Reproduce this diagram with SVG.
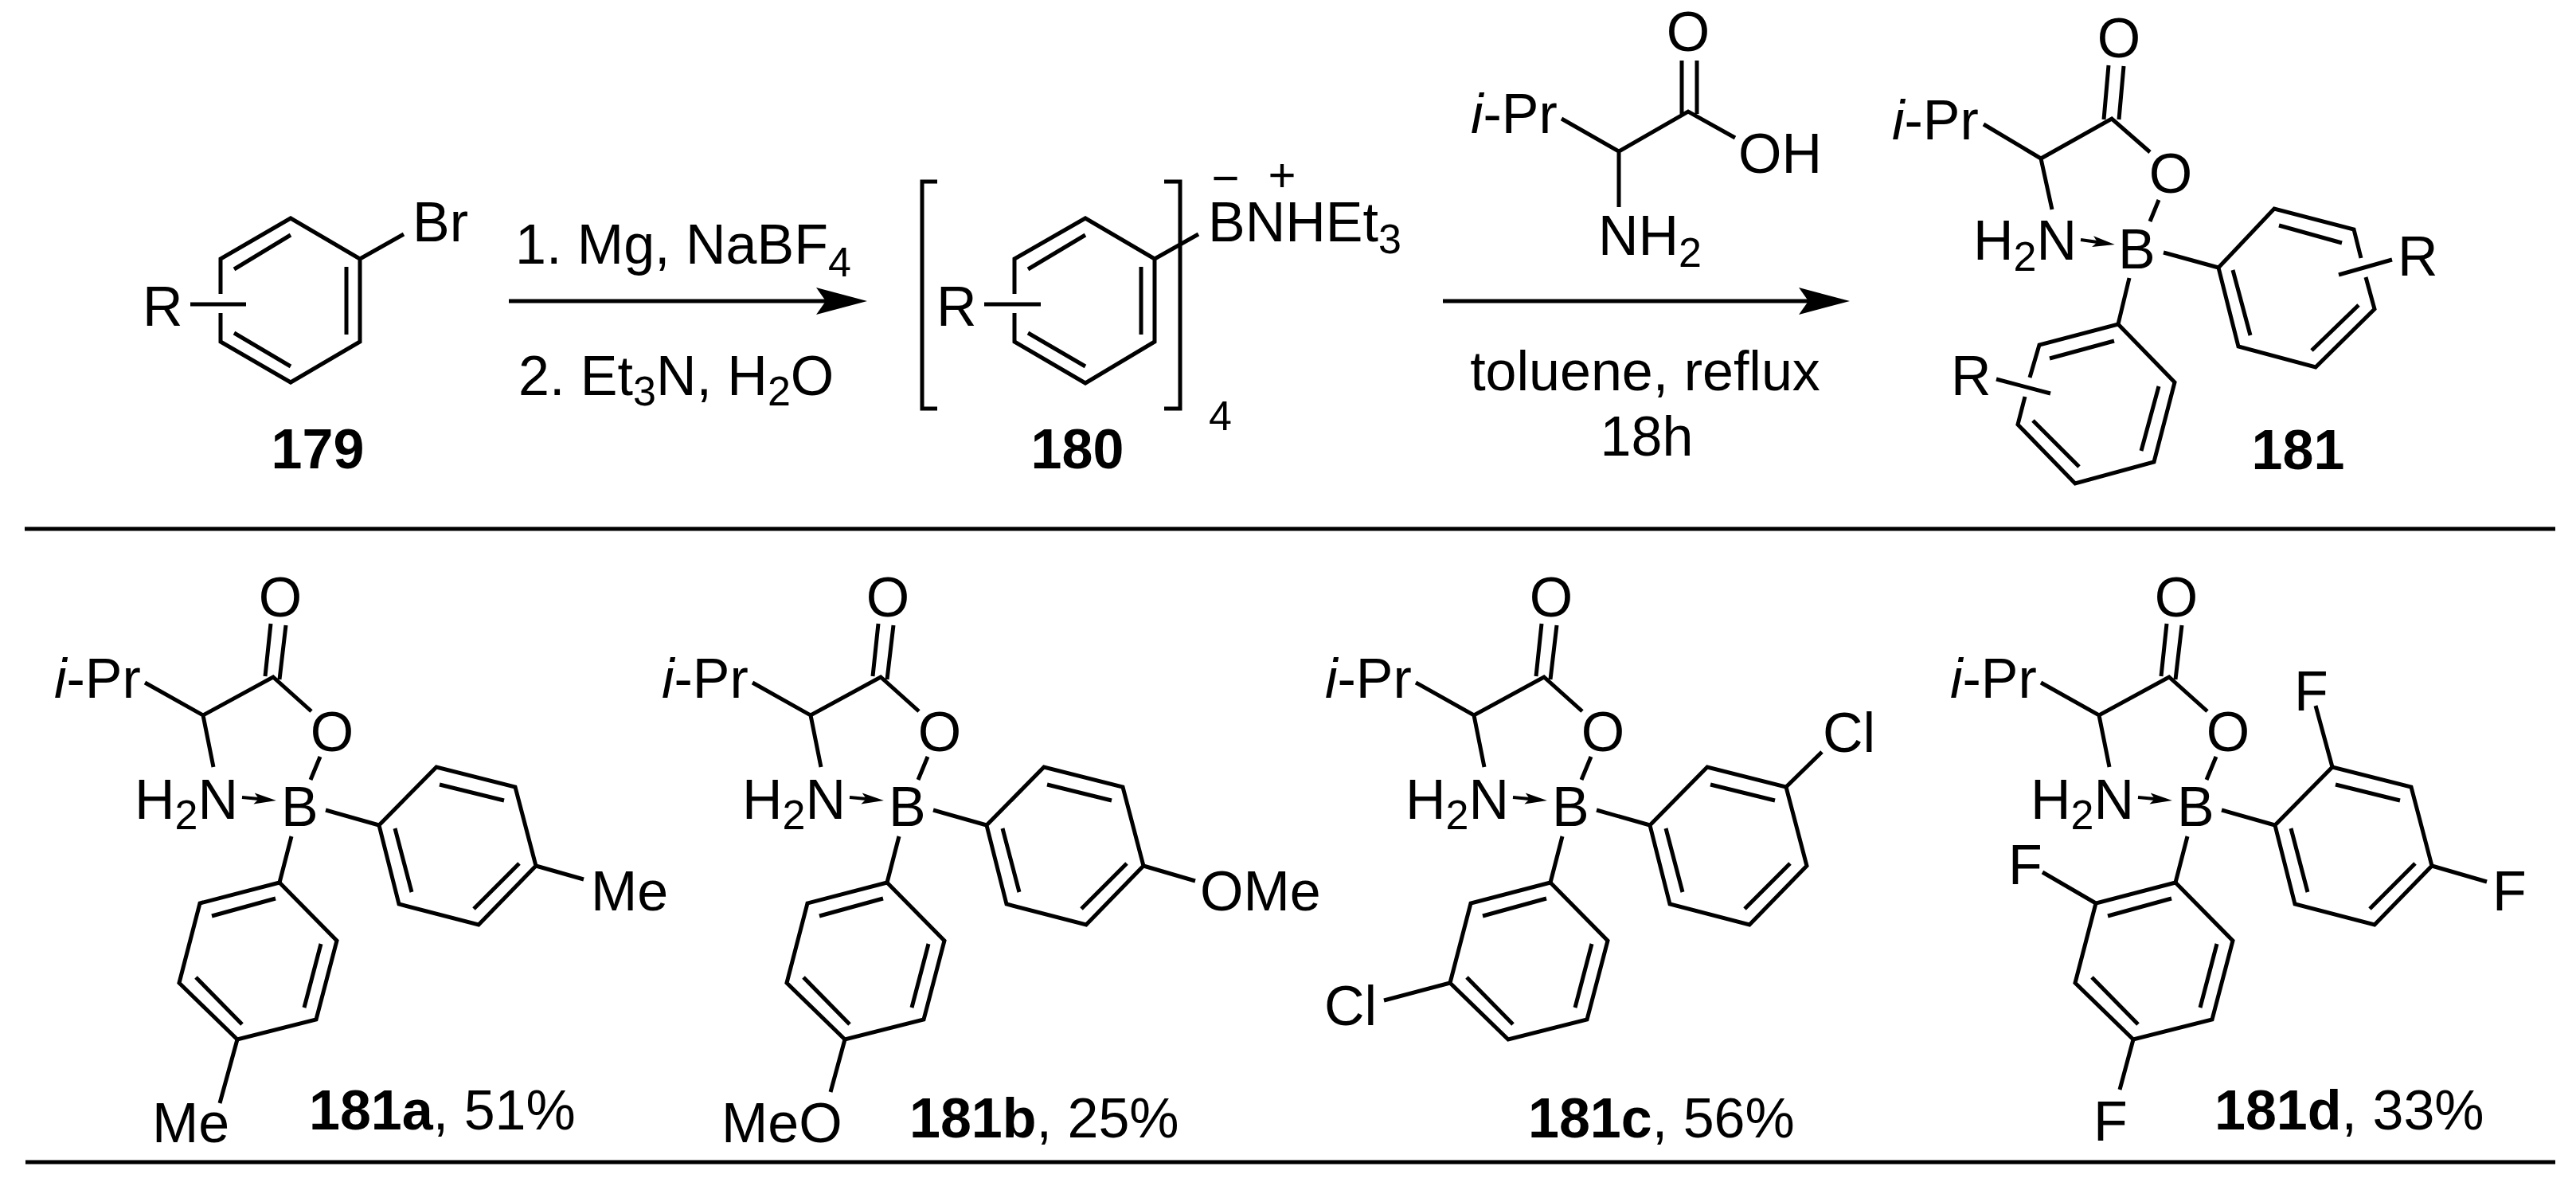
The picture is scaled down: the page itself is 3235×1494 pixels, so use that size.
<svg xmlns="http://www.w3.org/2000/svg" width="3235" height="1494" viewBox="0 0 3235 1494">
<style>
.b{fill:none;stroke:#000;stroke-width:5;stroke-linejoin:miter}
.c{fill:none;stroke:#000;stroke-width:5}
.s{fill:none;stroke:#000;stroke-width:4}
text{font-family:"Liberation Sans",Arial,sans-serif;font-size:70px;fill:#000}
.m{text-anchor:middle}
.h{font-weight:bold}
.i{font-style:italic}
.u{font-size:52px}
</style>
<defs>
<marker id="head" markerUnits="userSpaceOnUse" viewBox="0 -18 66 36" refX="12" refY="0" markerWidth="66" markerHeight="36" orient="auto"><path d="M0 -17L64 0L0 17L12 0Z" fill="#000"/></marker>
<marker id="small" markerUnits="userSpaceOnUse" viewBox="0 -8 30 16" refX="6" refY="0" markerWidth="30" markerHeight="16" orient="auto"><path d="M0 -7L28 0L0 7L6 0Z" fill="#000"/></marker>
</defs>
<rect width="3235" height="1494" fill="#fff"/>
<g id="connectors">
<path class="c" d="M639 378H1037" marker-end="url(#head)"/>
<path class="c" d="M1812 378H2271" marker-end="url(#head)"/>
<path class="c" d="M31 664H3209"/>
<path class="c" d="M32 1459H3209"/>
</g>
<g id="compound-179">
<path class="b" d="M277 369V325L365 274L452 325V429L365 480L277 429V393M294 338L365 295M435 335V420M294 418L365 460M452 325L507 294M239 382H309"/>
<text x="179" y="409">R</text>
<text x="518" y="303">Br</text>
<text class="m h" x="399" y="588">179</text>
</g>
<g id="reagents-1">
<text x="647" y="331">1. Mg, NaBF<tspan class="u" dy="16">4</tspan></text>
<text x="651" y="496">2. Et<tspan class="u" dy="13">3</tspan><tspan dy="-13">N, H</tspan><tspan class="u" dy="13">2</tspan><tspan dy="-13">O</tspan></text>
</g>
<g id="compound-180">
<path class="b" d="M1177 228H1158V513H1177M1462 228H1482V513H1462"/>
<path class="b" d="M1274 369V325L1363 274L1450 325V429L1363 481L1274 429V393M1291 338L1363 295M1433 335V420M1291 418L1363 460M1450 325L1505 294M1236 382H1307"/>
<text x="1176" y="409">R</text>
<text x="1517" y="303">BNHEt<tspan class="u" dy="15">3</tspan></text>
<text class="m" x="1539" y="244" style="font-size:60px">−</text>
<text class="m" x="1610" y="240" style="font-size:60px">+</text>
<text class="u" x="1518" y="540">4</text>
<text class="m h" x="1353" y="588">180</text>
</g>
<g id="reagents-2">
<path class="b" d="M1961 149L2033 190L2120 140L2179 173M2033 190V260M2112 76V143M2131 76V143"/>
<text class="m" x="2120" y="64">O</text>
<text x="1847" y="167"><tspan class="i">i</tspan>-Pr</text>
<text x="2183" y="217">OH</text>
<text x="2007" y="320">NH<tspan class="u" dy="15">2</tspan></text>
<text class="m" x="2066" y="490">toluene, reflux</text>
<text class="m" x="2068" y="572">18h</text>
</g>
<g id="compound-181">
<path class="b" d="M2648 82L2642 150M2667 83L2661 150M2491 156L2563 199L2652 149L2700 191M2563 199L2577 263M2711 251L2700 278M2717 317L2786 336M2674 349L2660 407"/>
<path class="b" d="M2965 324L2956 288L2856 262L2786 336L2811 435L2908 461L2982 388L2971 348M2862 283L2941 305M2962 383L2903 440M2804 339L2826 421M2937 345L3004 326"/>
<path class="b" d="M2549 474L2561 433L2660 407L2731 480L2705 580L2606 607L2534 533L2543 498M2655 428L2574 450M2553 528L2611 586M2689 566L2711 485M2507 476L2575 494"/>
<path class="s" d="M2613 301L2634 304" marker-end="url(#small)"/>
<text class="m" x="2661" y="72">O</text>
<text class="m" x="2726" y="242">O</text>
<text x="2376" y="175"><tspan class="i">i</tspan>-Pr</text>
<text x="2478" y="326">H<tspan class="u" dy="14">2</tspan><tspan dy="-14">N</tspan></text>
<text x="2660" y="337">B</text>
<text x="3011" y="346">R</text>
<text x="2450" y="496">R</text>
<text class="m h" x="2886" y="589">181</text>
</g>
<g id="compound-181a">
<path class="b" d="M340 783L333 849M359 785L351 853M182 857L255 898L343 850L391 893M255 898L268 963M402 950L390 979M409 1017L476 1036M366 1050L351 1108"/>
<path class="b" d="M476 1036L548 963L647 988L673 1087L601 1161L501 1135ZM552 985L633 1005M652 1084L595 1141M496 1040L517 1120"/>
<path class="b" d="M351 1108L251 1134L225 1234L298 1305L397 1280L423 1181ZM346 1128L266 1150M246 1227L304 1286M382 1265L403 1185"/>
<path class="s" d="M304 1001L325 1003" marker-end="url(#small)"/>
<path class="b" d="M673 1087L733 1104M298 1305L276 1385"/>
<text class="m" x="352" y="774">O</text><text class="m" x="417" y="943">O</text>
<text x="68" y="876"><tspan class="i">i</tspan>-Pr</text>
<text x="169" y="1028">H<tspan class="u" dy="13">2</tspan><tspan dy="-13">N</tspan></text>
<text x="353" y="1037">B</text>
<text x="742" y="1143">Me</text>
<text x="191" y="1434">Me</text>
<text x="388" y="1418"><tspan class="h">181a</tspan>, 51%</text>
</g>
<g id="compound-181b" transform="translate(763 0)">
<path class="b" d="M340 783L333 849M359 785L351 853M182 857L255 898L343 850L391 893M255 898L268 963M402 950L390 979M409 1017L476 1036M366 1050L351 1108"/>
<path class="b" d="M476 1036L548 963L647 988L673 1087L601 1161L501 1135ZM552 985L633 1005M652 1084L595 1141M496 1040L517 1120"/>
<path class="b" d="M351 1108L251 1134L225 1234L298 1305L397 1280L423 1181ZM346 1128L266 1150M246 1227L304 1286M382 1265L403 1185"/>
<path class="s" d="M304 1001L325 1003" marker-end="url(#small)"/>
<path class="b" d="M673 1087L738 1106M298 1305L280 1371"/>
<text class="m" x="352" y="774">O</text><text class="m" x="417" y="943">O</text>
<text x="68" y="876"><tspan class="i">i</tspan>-Pr</text>
<text x="169" y="1028">H<tspan class="u" dy="13">2</tspan><tspan dy="-13">N</tspan></text>
<text x="353" y="1037">B</text>
<text x="744" y="1143">OMe</text>
<text x="143" y="1434">MeO</text>
<text x="379" y="1428"><tspan class="h">181b</tspan>, 25%</text>
</g>
<g id="compound-181c" transform="translate(1596 0)">
<path class="b" d="M340 783L333 849M359 785L351 853M182 857L255 898L343 850L391 893M255 898L268 963M402 950L390 979M409 1017L476 1036M366 1050L351 1108"/>
<path class="b" d="M476 1036L548 963L647 988L673 1087L601 1161L501 1135ZM552 985L633 1005M652 1084L595 1141M496 1040L517 1120"/>
<path class="b" d="M351 1108L251 1134L225 1234L298 1305L397 1280L423 1181ZM346 1128L266 1150M246 1227L304 1286M382 1265L403 1185"/>
<path class="s" d="M304 1001L325 1003" marker-end="url(#small)"/>
<path class="b" d="M647 988L692 944M225 1234L142 1256"/>
<text class="m" x="352" y="774">O</text><text class="m" x="417" y="943">O</text>
<text x="68" y="876"><tspan class="i">i</tspan>-Pr</text>
<text x="169" y="1028">H<tspan class="u" dy="13">2</tspan><tspan dy="-13">N</tspan></text>
<text x="353" y="1037">B</text>
<text x="693" y="944">Cl</text>
<text x="67" y="1287">Cl</text>
<text x="323" y="1428"><tspan class="h">181c</tspan>, 56%</text>
</g>
<g id="compound-181d" transform="translate(2381 0)">
<path class="b" d="M340 783L333 849M359 785L351 853M182 857L255 898L343 850L391 893M255 898L268 963M402 950L390 979M409 1017L476 1036M366 1050L351 1108"/>
<path class="b" d="M476 1036L548 963L647 988L673 1087L601 1161L501 1135ZM552 985L633 1005M652 1084L595 1141M496 1040L517 1120"/>
<path class="b" d="M351 1108L251 1134L225 1234L298 1305L397 1280L423 1181ZM346 1128L266 1150M246 1227L304 1286M382 1265L403 1185"/>
<path class="s" d="M304 1001L325 1003" marker-end="url(#small)"/>
<path class="b" d="M548 963L527 886M673 1087L742 1107M251 1134L184 1095M298 1305L281 1368"/>
<text class="m" x="352" y="774">O</text><text class="m" x="417" y="943">O</text>
<text x="68" y="876"><tspan class="i">i</tspan>-Pr</text>
<text x="169" y="1028">H<tspan class="u" dy="13">2</tspan><tspan dy="-13">N</tspan></text>
<text x="353" y="1037">B</text>
<text x="500" y="892">F</text>
<text x="749" y="1143">F</text>
<text x="141" y="1110">F</text>
<text x="248" y="1432">F</text>
<text x="400" y="1418"><tspan class="h">181d</tspan>, 33%</text>
</g>
</svg>
